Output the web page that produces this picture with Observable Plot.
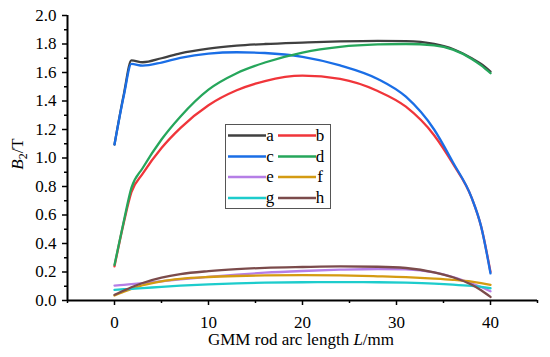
<!DOCTYPE html>
<html>
<head>
<meta charset="utf-8">
<script src="https://cdn.jsdelivr.net/npm/d3@7"></script>
<script src="https://cdn.jsdelivr.net/npm/@observablehq/plot@0.6"></script>
<style>
  html, body { margin: 0; padding: 0; background: #fff; }
  #chart { position: relative; width: 550px; height: 357px; }
  #chart svg text { font-family: "Liberation Serif", serif; font-variant: normal; }
</style>
</head>
<body>
<div id="chart"></div>
<script>
// Arc length positions (mm)
const L = [0, 1, 1.8, 3, 5, 7, 10, 13, 16, 20, 24, 28, 31, 34, 36, 38, 39, 40];
// B2 (T) for each series
const a = [1.095, 1.45, 1.685, 1.672, 1.70, 1.735, 1.768, 1.788, 1.80, 1.81, 1.818, 1.822, 1.82, 1.80, 1.765, 1.70, 1.66, 1.607];
const b = [0.24, 0.55, 0.76, 0.89, 1.07, 1.21, 1.37, 1.475, 1.54, 1.578, 1.555, 1.47, 1.36, 1.16, 0.96, 0.72, 0.52, 0.20];
const c = [1.095, 1.44, 1.66, 1.648, 1.67, 1.703, 1.733, 1.742, 1.737, 1.71, 1.65, 1.555, 1.43, 1.20, 0.97, 0.72, 0.52, 0.19];
const d = [0.25, 0.56, 0.79, 0.93, 1.13, 1.29, 1.48, 1.595, 1.67, 1.74, 1.78, 1.797, 1.80, 1.79, 1.76, 1.695, 1.65, 1.595];
const e = [0.105, 0.11, 0.115, 0.122, 0.135, 0.148, 0.166, 0.182, 0.195, 0.207, 0.216, 0.221, 0.218, 0.197, 0.165, 0.12, 0.095, 0.065];
const f = [0.035, 0.062, 0.082, 0.107, 0.135, 0.152, 0.165, 0.172, 0.176, 0.178, 0.176, 0.17, 0.164, 0.154, 0.145, 0.132, 0.122, 0.11];
const g = [0.075, 0.079, 0.082, 0.087, 0.096, 0.104, 0.113, 0.12, 0.125, 0.128, 0.129, 0.128, 0.125, 0.119, 0.112, 0.102, 0.095, 0.086];
const h = [0.04, 0.07, 0.093, 0.123, 0.16, 0.185, 0.206, 0.22, 0.229, 0.235, 0.239, 0.237, 0.228, 0.198, 0.163, 0.11, 0.072, 0.025];

const seriesNames = ["a", "b", "c", "d", "e", "f", "g", "h"];
const seriesValues = [a, b, c, d, e, f, g, h];
const seriesColors = ["#404040", "#f0353a", "#1a6ee6", "#26a65b", "#b57ee6", "#d49b12", "#1dcccc", "#7b4b4b"];

const xMajor = [0, 10, 20, 30, 40];
const xMinor = [-5, 5, 15, 25, 35, 45];
const yMajor = [0, 0.2, 0.4, 0.6, 0.8, 1.0, 1.2, 1.4, 1.6, 1.8, 2.0];
const yMinor = [0.1, 0.3, 0.5, 0.7, 0.9, 1.1, 1.3, 1.5, 1.7, 1.9];

const data = [];
seriesNames.forEach((s, i) => L.forEach((l, j) => data.push({series: s, L: l, B: seriesValues[i][j]})));

const font = "Liberation Serif";

const chart = Plot.plot({
  width: 550,
  height: 357,
  marginLeft: 67,
  marginRight: 13,
  marginTop: 15,
  marginBottom: 57,
  x: {domain: [-5, 45]},
  y: {domain: [0, 2]},
  color: {domain: seriesNames, range: seriesColors},
  style: {fontFamily: font, fontSize: "17px", color: "#000", background: "#fff"},
  marks: [
    Plot.axisX({ticks: xMajor, tickSize: 5, tickPadding: 10, tickFormat: d3.format("d"), label: null, strokeWidth: 1.5, fontSize: 17, fontFamily: font, fontVariant: "normal"}),
    Plot.axisX({ticks: xMinor, tickSize: 3, tickFormat: () => "", label: null, strokeWidth: 1.5}),
    Plot.axisY({ticks: yMajor, tickSize: 5, tickPadding: 6, tickFormat: d3.format(".1f"), label: null, strokeWidth: 1.5, fontSize: 17, fontFamily: font, fontVariant: "normal"}),
    Plot.axisY({ticks: yMinor, tickSize: 3, tickFormat: () => "", label: null, strokeWidth: 1.5}),
    Plot.ruleX([-5], {y1: 0, y2: 2, strokeWidth: 2}),
    Plot.ruleY([0], {strokeWidth: 2}),
    Plot.line(data, {x: "L", y: "B", z: "series", stroke: "series", strokeWidth: 2.3, curve: "monotone-x"})
  ]
});

const svg = d3.select(chart);

// Y label
const yl = svg.append("text")
  .attr("transform", "translate(23,154) rotate(-90)")
  .attr("text-anchor", "middle")
  .attr("font-size", 17)
  .attr("fill", "#000");
yl.append("tspan").attr("font-style", "italic").text("B");
yl.append("tspan").attr("font-size", 12).attr("dy", 4).text("2");
yl.append("tspan").attr("dy", -4).text("/T");

// X label
const xl = svg.append("text")
  .attr("x", 301).attr("y", 345)
  .attr("text-anchor", "middle")
  .attr("font-size", 17)
  .attr("fill", "#000");
xl.append("tspan").text("GMM rod arc length ");
xl.append("tspan").attr("font-style", "italic").text("L");
xl.append("tspan").text("/mm");

// Legend
const lg = svg.append("g");
lg.append("rect").attr("x", 225.5).attr("y", 124.5).attr("width", 105).attr("height", 84)
  .attr("fill", "#fff").attr("stroke", "#555").attr("stroke-width", 1);
const rowY = [135.5, 156.5, 177, 198];
seriesNames.forEach((s, i) => {
  const row = Math.floor(i / 2), col = i % 2;
  const x0 = col === 0 ? 228 : 278;
  lg.append("line").attr("x1", x0).attr("x2", x0 + 38).attr("y1", rowY[row]).attr("y2", rowY[row])
    .attr("stroke", seriesColors[i]).attr("stroke-width", 2.5);
  lg.append("text").attr("x", x0 + 42).attr("y", rowY[row] + 5)
    .attr("font-size", 17).attr("fill", "#000").text(s);
});

document.getElementById("chart").appendChild(chart);
</script>
</body>
</html>
